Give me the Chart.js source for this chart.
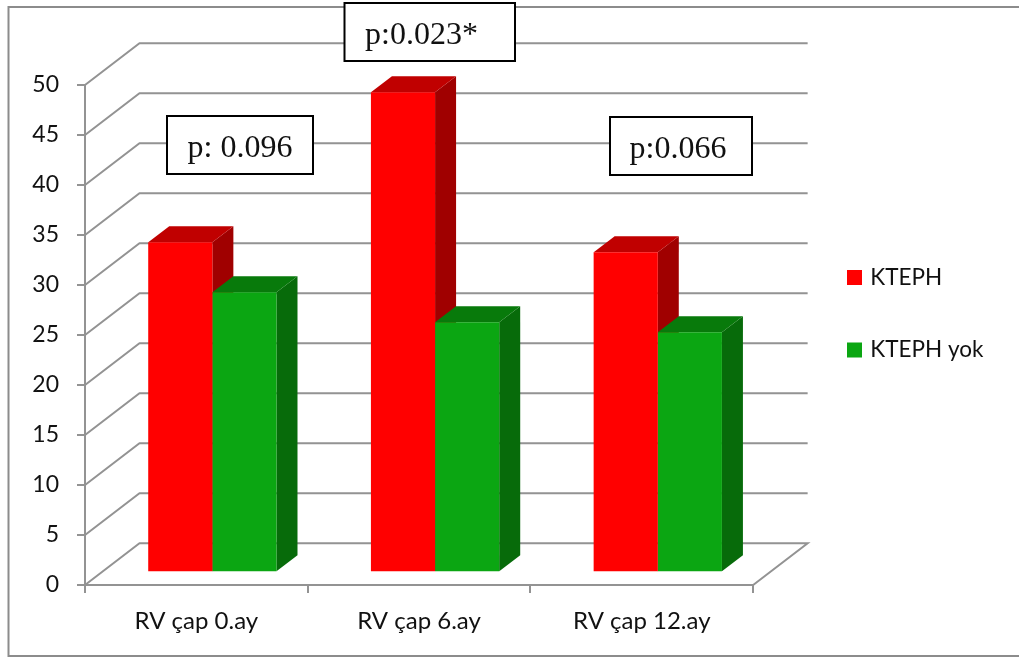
<!DOCTYPE html>
<html>
<head>
<meta charset="utf-8">
<style>
  html, body { margin: 0; padding: 0; background: #fff; }
  #wrap { position: relative; width: 1019px; height: 657px; }
</style>
<script src="https://cdn.jsdelivr.net/npm/chart.js@4"></script>
</head>
<body>
<div id="wrap"><canvas id="chart" width="1019" height="657"></canvas></div>
<script>
const categories = ['RV çap 0.ay', 'RV çap 6.ay', 'RV çap 12.ay'];
const ktephValues = [33, 48, 32];
const ktephYokValues = [28, 25, 24];
const seriesNames = ['KTEPH', 'KTEPH yok'];
const pLabels = ['p: 0.096', 'p:0.023*', 'p:0.066'];

const GRID = '#939393';
const TEXT = '#111111';
const WALL = { dx: 54.5, dy: -41.7 };
const BAR_SHIFT = { dx: 16, dy: -12.7 };
const DEPTH = { dx: 21, dy: -16 };
const FACES = [
  { front: '#ff0000', top: '#c00000', side: '#a00000' },
  { front: '#0ba612', top: '#087a0b', side: '#076b0a' }
];
const BOXES = [
  { x: 167, y: 116, w: 146, h: 58, tx: 240, ty: 157 },
  { x: 344.5, y: 3, w: 170.5, h: 58, tx: 421.5, ty: 44 },
  { x: 610, y: 117, w: 142, h: 58, tx: 678, ty: 158 }
];

// Floor, back wall and the slanted side wall of the 3D box.
function drawWalls(chart) {
  const { ctx, chartArea: a, scales: { y } } = chart;
  ctx.save();
  ctx.strokeStyle = GRID;
  ctx.lineWidth = 2;
  y.ticks.forEach(t => {
    const py = y.getPixelForValue(t.value);
    ctx.beginPath();
    ctx.moveTo(a.left, py);
    ctx.lineTo(a.left + WALL.dx, py + WALL.dy);
    ctx.lineTo(a.right + WALL.dx, py + WALL.dy);
    if (t.value === 0) ctx.lineTo(a.right, py);
    ctx.stroke();
  });
  ctx.restore();
}

// Top and right faces of every bar, extruded from the bar's own geometry.
function drawExtrusions(chart) {
  const { ctx } = chart;
  ctx.save();
  ctx.translate(BAR_SHIFT.dx, BAR_SHIFT.dy);
  chart.data.datasets.forEach((ds, i) => {
    chart.getDatasetMeta(i).data.forEach(bar => {
      const { x, y, base, width } = bar.getProps(['x', 'y', 'base', 'width'], true);
      const l = x - width / 2, r = x + width / 2;
      ctx.fillStyle = FACES[i].side;
      ctx.beginPath();
      ctx.moveTo(r, y);
      ctx.lineTo(r + DEPTH.dx, y + DEPTH.dy);
      ctx.lineTo(r + DEPTH.dx, base + DEPTH.dy);
      ctx.lineTo(r, base);
      ctx.closePath();
      ctx.fill();
      ctx.fillStyle = FACES[i].top;
      ctx.beginPath();
      ctx.moveTo(l, y);
      ctx.lineTo(l + DEPTH.dx, y + DEPTH.dy);
      ctx.lineTo(r + DEPTH.dx, y + DEPTH.dy);
      ctx.lineTo(r, y);
      ctx.closePath();
      ctx.fill();
    });
  });
  ctx.restore();
}

const box3d = {
  id: 'box3d',
  afterLayout(chart) {
    // The legend sits well clear of the plot, in the free right-hand margin.
    const lg = chart.legend;
    const w = lg.width, h = lg.height;
    lg.left = 850 - lg.options.labels.padding;
    lg.right = lg.left + w;
    lg.top = 313.75 - h / 2;
    lg.bottom = lg.top + h;
  },
  beforeDatasetsDraw(chart) {
    drawWalls(chart);
    drawExtrusions(chart);
  },
  beforeDatasetDraw(chart) {
    chart.ctx.save();
    chart.ctx.translate(BAR_SHIFT.dx, BAR_SHIFT.dy);
  },
  afterDatasetDraw(chart) {
    chart.ctx.restore();
  },
  afterDraw(chart) {
    const { ctx } = chart;
    ctx.save();
    // Outer frame: open on the right, running off the edge.
    ctx.strokeStyle = '#8c8c8c';
    ctx.lineWidth = 2;
    ctx.beginPath();
    ctx.moveTo(1019, 7);
    ctx.lineTo(8.5, 7);
    ctx.lineTo(8.5, 656);
    ctx.lineTo(1019, 656);
    ctx.stroke();
    // Significance callouts.
    ctx.font = '32px "Liberation Serif"';
    ctx.textAlign = 'center';
    ctx.textBaseline = 'alphabetic';
    BOXES.forEach((b, i) => {
      ctx.fillStyle = '#ffffff';
      ctx.fillRect(b.x, b.y, b.w, b.h);
      ctx.strokeStyle = '#000000';
      ctx.lineWidth = 2;
      ctx.strokeRect(b.x, b.y, b.w, b.h);
      ctx.fillStyle = '#111111';
      ctx.fillText(pLabels[i], b.tx, b.ty);
    });
    ctx.restore();
  }
};

new Chart(document.getElementById('chart'), {
  type: 'bar',
  data: {
    labels: categories,
    datasets: [
      { label: seriesNames[0], data: ktephValues, backgroundColor: FACES[0].front, clip: false },
      { label: seriesNames[1], data: ktephYokValues, backgroundColor: FACES[1].front, clip: false }
    ]
  },
  options: {
    responsive: false,
    animation: false,
    events: [],
    layout: { padding: { top: 85, left: 0, right: 72.5, bottom: 0 } },
    datasets: { bar: { categoryPercentage: 0.576, barPercentage: 1 } },
    scales: {
      x: {
        afterFit(s) { s.height = 72; },
        border: { color: GRID, width: 2 },
        grid: { offset: true, drawOnChartArea: false, color: GRID, lineWidth: 2, tickLength: 8 },
        ticks: { color: TEXT, font: { family: 'Lato', size: 24 }, padding: 14, maxRotation: 0 }
      },
      y: {
        min: 0,
        max: 50,
        afterFit(s) { s.width = 85; },
        border: { color: GRID, width: 2 },
        grid: { drawOnChartArea: false, color: GRID, lineWidth: 2, tickLength: 8 },
        ticks: { stepSize: 5, color: TEXT, font: { family: 'Lato', size: 23 }, padding: 18 }
      }
    },
    plugins: {
      tooltip: { enabled: false },
      legend: {
        position: 'right',
        align: 'center',
        labels: {
          boxWidth: 9,
          boxHeight: 9,
          padding: 50,
          color: TEXT,
          font: { family: 'Lato', size: 22.5 },
          // A thick same-colour outline gives a full-size swatch with the label tight against it.
          generateLabels(chart) {
            return Chart.defaults.plugins.legend.labels.generateLabels(chart).map((item, i) =>
              Object.assign(item, { lineWidth: 6, strokeStyle: FACES[i].front }));
          }
        }
      }
    }
  },
  plugins: [box3d]
});
</script>
</body>
</html>
